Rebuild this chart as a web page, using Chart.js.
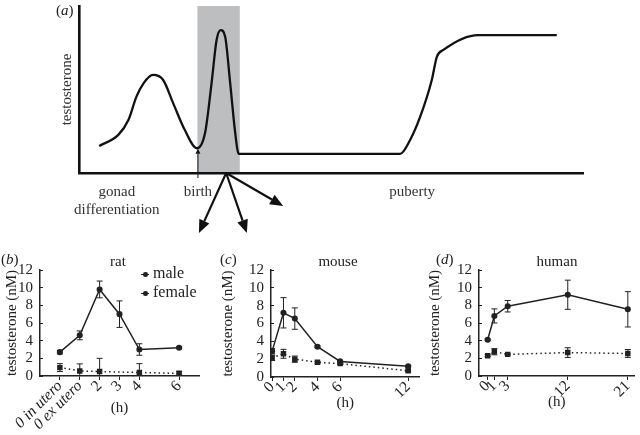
<!DOCTYPE html>
<html>
<head>
<meta charset="utf-8">
<script src="https://cdn.jsdelivr.net/npm/chart.js@4.4.1/dist/chart.umd.min.js"></script>
<style>
  body { margin: 0; background: #fff; }
  #wrap { position: relative; width: 640px; height: 435px; overflow: hidden; }
  canvas { position: absolute; }
  #legend { position: absolute; left: 141px; top: 263px; font: 16px "Liberation Serif", serif; color: #222; line-height: 19px; }
  #legend .mk { display: inline-block; position: relative; width: 8px; height: 1.5px; background: #222; vertical-align: middle; margin-right: 4px; }
  #legend .mk::after { content: ""; position: absolute; left: 2px; top: -1.5px; width: 4.5px; height: 4.5px; border-radius: 50%; background: #222; }
</style>
</head>
<body>
<div id="wrap">
  <canvas id="cA" width="640" height="240" style="left:0;top:0"></canvas>
  <canvas id="cB" width="210" height="195" style="left:0;top:240px"></canvas>
  <canvas id="cC" width="215" height="195" style="left:210px;top:240px"></canvas>
  <canvas id="cD" width="215" height="195" style="left:425px;top:240px"></canvas>
  <div id="legend"></div>
</div>
<script>
// (a) schematic, arbitrary units (time 0-100, level 0-100)
var aTime  = [4.0, 7.8, 9.8, 11.4, 12.8, 14.7, 16.7, 18.7, 21.0, 23.4, 25.0, 26.3, 27.3, 28.1, 29.0, 30.0, 31.0, 31.7, 63.7, 65.7, 67.7, 70.0, 71.0, 72.3, 79.2, 94.8];
var aLevel = [16.2, 22.8, 31.7, 45.7, 53.7, 58.7, 55.7, 41.7, 25.7, 14.8, 23.8, 53.7, 79.6, 85.6, 81.6, 53.7, 23.8, 11.4, 11.4, 19.8, 33.7, 55.7, 69.6, 73.7, 82.6, 82.6];
var aShade = [23.5, 31.9];
var aMarks = [7.5, 23.6, 66.1];
var aMarkLabels = [['gonad', 'differentiation'], 'birth', 'puberty'];
var aBirthArrow = [23.6, -3, 14.5];
var aBurstFrom = [29.2, 0];
var aBurstTo = [[23.8, -35.9], [33.3, -35.9], [40.5, -19.8]];

var seriesNames = ['male', 'female'];

// (b) rat
var ratHours = [0, 1, 2, 3, 4, 6];
var ratTicks = ['0 in utero', '0 ex utero', '2', '3', '4', '6'];
var ratMale = [2.7, 4.6, 9.8, 7.0, 3.0, 3.2];
var ratMaleErr = [0.2, 0.5, 0.95, 1.5, 0.65, 0.1];
var ratFemale = [0.95, 0.57, 0.5, null, 0.4, 0.3];
var ratFemaleErr = [0.45, 0.8, 1.5, null, 1.0, 0.2];

// (c) mouse
var mouseHours = [0, 1, 2, 4, 6, 12];
var mouseTicks = ['0', '1', '2', '4', '6', '12'];
var mouseMale = [2.9, 7.2, 6.55, 3.4, 1.75, 1.2];
var mouseMaleErr = [0.3, 1.7, 1.2, 0.1, 0.1, 0.1];
var mouseFemale = [2.15, 2.6, 2.0, 1.65, 1.5, 0.7];
var mouseFemaleErr = [0.3, 0.5, 0.35, 0.1, 0.1, 0.1];

// (d) human
var humanHours = [0, 1, 3, 12, 21];
var humanTicks = ['0', '1', '3', '12', '21'];
var humanMale = [4.1, 6.8, 7.9, 9.2, 7.55];
var humanMaleErr = [0.1, 0.8, 0.65, 1.65, 2.0];
var humanFemale = [2.3, 2.75, 2.45, 2.65, 2.55];
var humanFemaleErr = [0.1, 0.35, 0.1, 0.55, 0.45];

var serif = '"Liberation Serif", "DejaVu Serif", serif';
var ink = '#222';
Chart.defaults.font.family = serif;
Chart.defaults.color = ink;

function pts(xs, ys) {
    return xs.map(function(x, i) { return { x: x, y: ys[i] }; });
}

function drawArrow(ctx, x1, y1, x2, y2, w, len, half) {
    var a = Math.atan2(y2 - y1, x2 - x1);
    var bx = x2 - len * Math.cos(a), by = y2 - len * Math.sin(a);
    ctx.lineWidth = w;
    ctx.beginPath();
    ctx.moveTo(x1, y1);
    ctx.lineTo(bx, by);
    ctx.stroke();
    ctx.beginPath();
    ctx.moveTo(x2, y2);
    ctx.lineTo(bx + half * Math.sin(a), by - half * Math.cos(a));
    ctx.lineTo(bx - half * Math.sin(a), by + half * Math.cos(a));
    ctx.closePath();
    ctx.fill();
}

var panelText = {
    id: 'panelText',
    afterDraw: function(chart, args, o) {
        var ctx = chart.ctx;
        ctx.save();
        ctx.fillStyle = ink;
        ctx.textBaseline = 'middle';
        var f = '15px ' + serif;
        var x = o.tagX;
        ctx.font = f; ctx.fillText('(', x, o.tagY); x += ctx.measureText('(').width;
        ctx.font = 'italic ' + f; ctx.fillText(o.tag, x, o.tagY); x += ctx.measureText(o.tag).width;
        ctx.font = f; ctx.fillText(')', x, o.tagY);
        if (o.title) {
            ctx.textAlign = 'center';
            ctx.fillText(o.title, o.titleX, o.titleY);
        }
        ctx.restore();
    }
};

var errorBars = {
    id: 'errorBars',
    afterDatasetsDraw: function(chart) {
        var ctx = chart.ctx, area = chart.chartArea, ys = chart.scales.y;
        ctx.save();
        ctx.beginPath();
        ctx.rect(area.left, area.top - 6, area.width + 6, area.height + 6);
        ctx.clip();
        ctx.strokeStyle = ink;
        ctx.lineWidth = 1;
        chart.data.datasets.forEach(function(ds, i) {
            if (!ds.errors) return;
            chart.getDatasetMeta(i).data.forEach(function(pt, j) {
                var e = ds.errors[j], v = ds.data[j].y;
                if (e == null || v == null) return;
                var y1 = ys.getPixelForValue(v + e), y2 = ys.getPixelForValue(v - e);
                ctx.beginPath();
                ctx.moveTo(pt.x, y1); ctx.lineTo(pt.x, y2);
                ctx.moveTo(pt.x - 3, y1); ctx.lineTo(pt.x + 3, y1);
                ctx.moveTo(pt.x - 3, y2); ctx.lineTo(pt.x + 3, y2);
                ctx.stroke();
            });
        });
        ctx.restore();
    }
};

// panel (a)
var shade = {
    id: 'shade',
    beforeDraw: function(chart) {
        var ctx = chart.ctx, area = chart.chartArea, xs = chart.scales.x;
        var x1 = xs.getPixelForValue(aShade[0]), x2 = xs.getPixelForValue(aShade[1]);
        ctx.save();
        ctx.fillStyle = '#bcbec0';
        ctx.fillRect(x1, area.top, x2 - x1, area.bottom - area.top);
        ctx.restore();
    }
};

var arrows = {
    id: 'arrows',
    afterDraw: function(chart) {
        var ctx = chart.ctx, xs = chart.scales.x, ys = chart.scales.y;
        ctx.save();
        ctx.strokeStyle = '#111';
        ctx.fillStyle = '#111';
        var bx = xs.getPixelForValue(aBirthArrow[0]);
        drawArrow(ctx, bx, ys.getPixelForValue(aBirthArrow[1]), bx, ys.getPixelForValue(aBirthArrow[2]), 1, 5, 2.5);
        var fx = xs.getPixelForValue(aBurstFrom[0]), fy = ys.getPixelForValue(aBurstFrom[1]);
        aBurstTo.forEach(function(t) {
            drawArrow(ctx, fx, fy, xs.getPixelForValue(t[0]), ys.getPixelForValue(t[1]), 2.2, 13, 5.5);
        });
        ctx.restore();
    }
};

new Chart(document.getElementById('cA'), {
    type: 'line',
    data: {
        datasets: [{
            data: pts(aTime, aLevel),
            borderColor: '#111',
            borderWidth: 2.3,
            pointRadius: 0,
            cubicInterpolationMode: 'monotone',
            fill: false
        }]
    },
    options: {
        responsive: false,
        animation: false,
        layout: { padding: { top: 6, right: 57, left: 0, bottom: 0 } },
        scales: {
            x: {
                type: 'linear', min: 0, max: 100,
                afterBuildTicks: function(s) { s.ticks = aMarks.map(function(v) { return { value: v }; }); },
                afterFit: function(s) { s.height = 67; },
                ticks: {
                    autoSkip: false, maxRotation: 0, padding: 9.6, color: '#333',
                    font: { size: 15 },
                    callback: function(v, i) { return aMarkLabels[i]; }
                },
                grid: { display: false, drawTicks: false },
                border: { display: true, color: '#111', width: 2.6 }
            },
            y: {
                min: 0, max: 100,
                afterFit: function(s) { s.width = 79; },
                ticks: { display: false },
                grid: { display: false, drawTicks: false },
                border: { display: true, color: '#111', width: 2.6 },
                title: { display: true, text: 'testosterone', color: '#333', font: { size: 15 }, padding: { top: 58, bottom: 0 } }
            }
        },
        plugins: {
            legend: { display: false },
            tooltip: { enabled: false },
            panelText: { tag: 'a', tagX: 56, tagY: 11 }
        }
    },
    plugins: [shade, arrows, panelText]
});

// panels (b)-(d)
function hourChart(id, c) {
    return new Chart(document.getElementById(id), {
        type: 'line',
        data: {
            datasets: [{
                label: seriesNames[0],
                data: pts(c.hours, c.male),
                errors: c.maleErr,
                borderColor: ink, backgroundColor: ink,
                borderWidth: 1.5,
                pointRadius: 2.3, pointStyle: 'circle',
                tension: 0
            }, {
                label: seriesNames[1],
                data: pts(c.hours, c.female),
                errors: c.femaleErr,
                borderColor: ink, backgroundColor: ink,
                borderWidth: 1.5, borderDash: [1.5, 3],
                pointRadius: 2.8, pointStyle: 'rect',
                spanGaps: true,
                tension: 0
            }]
        },
        options: {
            responsive: false,
            animation: false,
            layout: { padding: { top: 30, right: c.right, left: 0, bottom: 0 } },
            scales: {
                x: {
                    type: 'linear', min: c.min, max: c.max,
                    afterBuildTicks: function(s) { s.ticks = c.hours.map(function(v) { return { value: v }; }); },
                    afterFit: function(s) { s.height = c.xh; },
                    ticks: {
                        autoSkip: false, minRotation: 45, maxRotation: 45, padding: -3,
                        font: function(ctx) {
                            var lab = c.ticks[ctx.index] || '';
                            return { size: 15.5, style: lab.indexOf('utero') > 0 ? 'italic' : 'normal' };
                        },
                        callback: function(v, i) { return c.ticks[i]; }
                    },
                    grid: { display: true, drawOnChartArea: false, drawTicks: true, tickLength: 4, color: ink },
                    border: { display: true, color: ink, width: 1.5 },
                    title: { display: true, text: '(h)', font: { size: 15 }, padding: { top: 0, bottom: c.hb } }
                },
                y: {
                    min: 0, max: 12,
                    afterFit: function(s) { s.width = c.yw; },
                    ticks: { stepSize: 2, autoSkip: false, padding: 10, font: { size: 15 } },
                    grid: { display: true, drawOnChartArea: false, drawTicks: true, tickLength: -3, color: ink },
                    border: { display: true, color: ink, width: 1.5 },
                    title: { display: true, text: 'testosterone (nM)', font: { size: 15 }, padding: { top: c.yt, bottom: 0 } }
                }
            },
            plugins: {
                legend: { display: false },
                tooltip: { enabled: false },
                panelText: { tag: c.tag, tagX: c.tagX, tagY: 20, title: c.title, titleX: c.titleX, titleY: 22 }
            }
        },
        plugins: [errorBars, panelText]
    });
}

hourChart('cB', {
    hours: ratHours, ticks: ratTicks, male: ratMale, maleErr: ratMaleErr, female: ratFemale, femaleErr: ratFemaleErr,
    min: -1, max: 7, right: 11, xh: 59, yw: 40, hb: 18, yt: 3,
    tag: 'b', tagX: 1, title: 'rat', titleX: 118
});
hourChart('cC', {
    hours: mouseHours, ticks: mouseTicks, male: mouseMale, maleErr: mouseMaleErr, female: mouseFemale, femaleErr: mouseFemaleErr,
    min: -0.1, max: 13, right: 5, xh: 58, yw: 61, hb: 23, yt: 9,
    tag: 'c', tagX: 10, title: 'mouse', titleX: 128
});
hourChart('cD', {
    hours: humanHours, ticks: humanTicks, male: humanMale, maleErr: humanMaleErr, female: humanFemale, femaleErr: humanFemaleErr,
    min: -1.3, max: 22, right: 1, xh: 59, yw: 54, hb: 24, yt: 1,
    tag: 'd', tagX: 11, title: 'human', titleX: 132
});

// legend for (b)
var lg = document.getElementById('legend');
seriesNames.forEach(function(n) {
    var row = document.createElement('div');
    row.innerHTML = '<span class="mk"></span>' + n;
    lg.appendChild(row);
});
</script>
</body>
</html>
